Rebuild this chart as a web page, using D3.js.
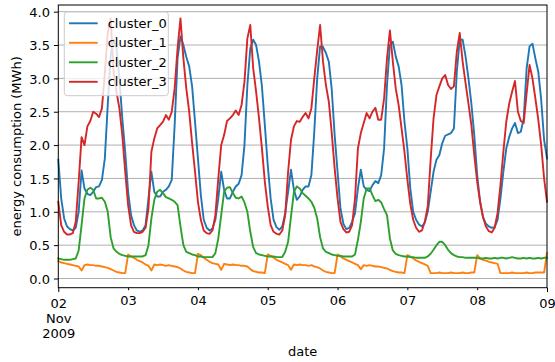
<!DOCTYPE html>
<html>
<head>
<meta charset="utf-8">
<script src="https://cdn.jsdelivr.net/npm/d3@7"></script>
<style>
  body { margin: 0; background: #fff; }
  svg text { font-family: "DejaVu Sans", sans-serif; font-size: 13px; fill: #000; }
</style>
</head>
<body>
<div id="chart"></div>
<script>
// hourly values, 2009-11-02 00:00 .. 2009-11-09 00:00 (one row per day)
var cluster_0 = [
  1.78, 1.2, 0.9, 0.78, 0.74, 0.72, 0.76, 1.0, 1.62, 1.35, 1.27, 1.25, 1.3, 1.37, 1.38, 1.48, 1.8, 2.6, 3.35, 3.58, 3.45, 3.0, 2.4, 1.9,
  1.3, 0.95, 0.8, 0.72, 0.7, 0.72, 0.8, 1.2, 1.6, 1.3, 1.23, 1.23, 1.3, 1.33, 1.38, 1.48, 2.3, 3.3, 3.63, 3.5, 3.32, 3.18, 2.88, 2.35,
  1.8, 1.25, 0.88, 0.76, 0.72, 0.75, 0.88, 1.2, 1.6, 1.33, 1.2, 1.2, 1.3, 1.38, 1.42, 1.55, 2.0, 2.9, 3.45, 3.58, 3.5, 3.25, 2.88, 2.3,
  1.7, 1.2, 0.88, 0.77, 0.73, 0.78, 0.98, 1.3, 1.63, 1.33, 1.18, 1.23, 1.33, 1.38, 1.38, 1.55, 2.2, 3.0, 3.48, 3.47, 3.38, 3.25, 2.83, 2.15,
  1.6, 1.05, 0.82, 0.74, 0.76, 0.85, 0.98, 1.35, 1.63, 1.38, 1.33, 1.31, 1.4, 1.46, 1.43, 1.55, 1.95, 2.9, 3.5, 3.55, 3.33, 3.18, 2.9, 2.35,
  1.95, 1.35, 1.0, 0.88, 0.81, 0.78, 0.84, 1.0, 1.3, 1.6, 1.78, 1.85, 2.03, 2.14, 2.16, 2.18, 2.25, 3.1, 3.58, 3.58, 3.33, 3.0, 2.62, 2.15,
  1.55, 1.15, 0.92, 0.82, 0.78, 0.76, 0.77, 0.88, 1.2, 1.6, 1.95, 2.12, 2.25, 2.33, 2.18, 2.2, 2.4, 3.15, 3.48, 3.52, 3.3, 3.1, 2.68, 2.08,
  1.8];
var cluster_1 = [
  0.26, 0.24, 0.23, 0.22, 0.21, 0.2, 0.19, 0.18, 0.12, 0.2, 0.21, 0.2, 0.2, 0.19, 0.19, 0.18, 0.17, 0.16, 0.14, 0.12, 0.1, 0.09, 0.08, 0.08,
  0.36, 0.33, 0.31, 0.28, 0.26, 0.24, 0.21, 0.19, 0.12, 0.21, 0.2, 0.21, 0.2, 0.19, 0.2, 0.19, 0.18, 0.17, 0.15, 0.12, 0.1, 0.09, 0.08, 0.08,
  0.37, 0.35, 0.31, 0.28, 0.25, 0.23, 0.22, 0.21, 0.13, 0.22, 0.21, 0.2, 0.21, 0.2, 0.2, 0.19, 0.19, 0.18, 0.14, 0.11, 0.1, 0.09, 0.09, 0.08,
  0.36, 0.34, 0.31, 0.28, 0.26, 0.24, 0.22, 0.2, 0.13, 0.21, 0.2, 0.21, 0.2, 0.2, 0.19, 0.2, 0.18, 0.17, 0.15, 0.12, 0.1, 0.09, 0.08, 0.08,
  0.36, 0.33, 0.3, 0.28, 0.26, 0.24, 0.22, 0.2, 0.14, 0.2, 0.19, 0.2, 0.19, 0.18, 0.18, 0.17, 0.16, 0.15, 0.13, 0.11, 0.1, 0.09, 0.09, 0.08,
  0.35, 0.33, 0.3, 0.27, 0.25, 0.23, 0.21, 0.19, 0.08, 0.08, 0.08, 0.09, 0.08, 0.08, 0.08, 0.09, 0.08, 0.08, 0.08, 0.09, 0.08, 0.08, 0.09, 0.09,
  0.35, 0.3, 0.28, 0.27, 0.25, 0.24, 0.23, 0.22, 0.08, 0.08, 0.08, 0.08, 0.09, 0.08, 0.08, 0.08, 0.08, 0.09, 0.08, 0.08, 0.09, 0.09, 0.09, 0.09,
  0.38];
var cluster_2 = [
  0.3, 0.29, 0.28, 0.28, 0.28, 0.29, 0.3, 0.42, 0.8, 1.2, 1.33, 1.36, 1.33, 1.2, 1.2, 1.21, 1.15, 1.0, 0.62, 0.45, 0.4, 0.37, 0.35, 0.34,
  0.33, 0.33, 0.33, 0.33, 0.33, 0.33, 0.35, 0.5, 0.9, 1.18, 1.3, 1.33, 1.28, 1.22, 1.2, 1.18, 1.15, 1.1, 0.78, 0.5, 0.4, 0.38, 0.36, 0.35,
  0.33, 0.33, 0.32, 0.32, 0.32, 0.32, 0.38, 0.6, 0.95, 1.3, 1.36, 1.37, 1.28, 1.21, 1.2, 1.23, 1.14, 1.0, 0.7, 0.47, 0.38, 0.36, 0.35, 0.34,
  0.33, 0.33, 0.33, 0.32, 0.32, 0.32, 0.4, 0.55, 0.93, 1.3, 1.38, 1.35, 1.28, 1.24, 1.2, 1.15, 1.06, 0.9, 0.62, 0.45, 0.4, 0.38, 0.36, 0.35,
  0.34, 0.34, 0.33, 0.33, 0.33, 0.33, 0.36, 0.58, 0.85, 1.2, 1.35, 1.35, 1.25, 1.16, 1.18, 1.14, 1.04, 0.95, 0.6, 0.42, 0.37, 0.35, 0.34, 0.33,
  0.33, 0.32, 0.32, 0.31, 0.31, 0.31, 0.31, 0.33, 0.37, 0.43, 0.5, 0.55, 0.55, 0.5, 0.43, 0.38, 0.35, 0.33, 0.32, 0.32, 0.31, 0.31, 0.31, 0.31,
  0.31, 0.3, 0.3, 0.31, 0.3, 0.3, 0.31, 0.3, 0.31, 0.31, 0.3, 0.31, 0.32, 0.31, 0.3, 0.3, 0.31, 0.3, 0.31, 0.3, 0.3, 0.31, 0.3, 0.31,
  0.31];
var cluster_3 = [
  1.15, 0.8, 0.7, 0.66, 0.66, 0.68, 0.85, 1.45, 2.12, 2.0, 2.28, 2.36, 2.5, 2.47, 2.42, 2.55, 3.08, 3.68, 3.9, 3.1, 2.8, 2.55, 2.15, 1.6,
  1.1, 0.8, 0.7, 0.68, 0.68, 0.7, 0.76, 1.05, 1.9, 2.1, 2.25, 2.3, 2.35, 2.45, 2.38, 2.5, 2.85, 3.45, 3.9, 3.3, 2.85, 2.5, 2.03, 1.6,
  1.15, 0.88, 0.72, 0.68, 0.67, 0.72, 0.95, 1.5, 2.0, 2.15, 2.36, 2.4, 2.45, 2.52, 2.45, 2.6, 2.95, 3.6, 3.8, 3.15, 2.8, 2.4, 1.95, 1.45,
  1.08, 0.8, 0.7, 0.67, 0.66, 0.72, 0.95, 1.6, 2.08, 2.28, 2.36, 2.35, 2.42, 2.48, 2.4, 2.55, 3.0, 3.42, 3.8, 3.25, 2.9, 2.65, 2.18, 1.65,
  1.2, 0.85, 0.74, 0.69, 0.7, 0.8, 1.2, 1.95, 2.18, 2.33, 2.48, 2.4, 2.5, 2.56, 2.38, 2.38, 2.7, 3.3, 3.72, 3.25, 2.85, 2.6, 2.25, 1.9,
  1.48, 1.12, 0.88, 0.76, 0.7, 0.72, 0.85, 1.08, 1.78, 2.4, 2.75, 2.88, 3.0, 3.05, 2.9, 2.84, 2.88, 3.4, 3.68, 3.25, 2.93, 2.62, 2.3, 1.85,
  1.45, 1.15, 0.92, 0.78, 0.71, 0.69, 0.76, 0.98, 1.4, 1.9, 2.35, 2.62, 2.8, 2.96, 2.5, 2.36, 2.33, 2.78, 3.2, 3.0, 2.7, 2.38, 2.0, 1.5,
  1.15];

var seriesNames = ["cluster_0", "cluster_1", "cluster_2", "cluster_3"];
var seriesValues = [cluster_0, cluster_1, cluster_2, cluster_3];
var colors = ["#1f77b4", "#ff7f0e", "#2ca02c", "#d62728"];
var yTicks = [0, 0.5, 1, 1.5, 2, 2.5, 3, 3.5, 4];
var majorDays = [new Date(2009, 10, 2), new Date(2009, 10, 9)];
var minorDays = [3, 4, 5, 6, 7, 8].map(function(d){ return new Date(2009, 10, d); });

var W = 555, H = 362;
var mLeft = 58.3, mRight = 547, mTop = 5, mBottom = 287.7;

var start = new Date(2009, 10, 2);
var dates = cluster_0.map(function(d, i){ return d3.timeHour.offset(start, i); });

var x = d3.scaleTime()
  .domain([start, new Date(2009, 10, 9)])
  .range([mLeft, mRight]);
var y = d3.scaleLinear()
  .domain([-0.138, 4.1])
  .range([mBottom, mTop]);

var svg = d3.select("#chart").append("svg")
  .attr("width", W)
  .attr("height", H);

// grid
svg.append("g").selectAll("line")
  .data(yTicks)
  .enter().append("line")
    .attr("x1", mLeft).attr("x2", mRight)
    .attr("y1", function(d){ return y(d); })
    .attr("y2", function(d){ return y(d); })
    .attr("stroke", "#b0b0b0")
    .attr("stroke-width", 1);

// lines
var line = d3.line()
  .x(function(d, i){ return x(dates[i]); })
  .y(function(d){ return y(d); });

svg.append("g").selectAll("path")
  .data(seriesValues)
  .enter().append("path")
    .attr("d", function(d){ return line(d); })
    .attr("fill", "none")
    .attr("stroke", function(d, i){ return colors[i]; })
    .attr("stroke-width", 1.9)
    .attr("stroke-linejoin", "round")
    .attr("stroke-linecap", "square");

// frame
svg.append("rect")
  .attr("x", mLeft).attr("y", mTop)
  .attr("width", mRight - mLeft).attr("height", mBottom - mTop)
  .attr("fill", "none")
  .attr("stroke", "#000")
  .attr("stroke-width", 1);

// y axis
var yAxis = svg.append("g")
  .attr("transform", "translate(" + mLeft + ",0)")
  .call(d3.axisLeft(y).tickValues(yTicks).tickFormat(d3.format(".1f")).tickSize(4.4).tickPadding(4));
yAxis.select(".domain").remove();
yAxis.selectAll("text").attr("font-size", null).attr("font-family", null).attr("dy", "0.36em");

// x axis, minor days
var xMinor = svg.append("g")
  .attr("transform", "translate(0," + mBottom + ")")
  .call(d3.axisBottom(x).tickValues(minorDays).tickFormat(d3.timeFormat("%d")).tickSize(2.5).tickPadding(5.8));
xMinor.select(".domain").remove();
xMinor.selectAll("text").attr("font-size", null).attr("font-family", null);

// x axis, major (weekly) days
var xMajor = svg.append("g")
  .attr("transform", "translate(0," + mBottom + ")")
  .call(d3.axisBottom(x).tickValues(majorDays).tickFormat("").tickSize(4.4));
xMajor.select(".domain").remove();
xMajor.selectAll(".tick").each(function(d, i){
  var t = d3.select(this).select("text")
    .attr("font-size", null).attr("font-family", null)
    .attr("y", 20.6).attr("dy", null);
  var parts = i === 0 ? [d3.timeFormat("%d")(d), d3.timeFormat("%b")(d), d3.timeFormat("%Y")(d)] : [d3.timeFormat("%d")(d)];
  parts.forEach(function(p, j){
    t.append("tspan").attr("x", 0).attr("dy", j === 0 ? 0 : 15).text(p);
  });
});

// axis labels
svg.append("text")
  .attr("x", (mLeft + mRight) / 2).attr("y", 355.5)
  .attr("text-anchor", "middle")
  .text("date");
svg.append("text")
  .attr("transform", "translate(21," + ((mTop + mBottom) / 2) + ") rotate(-90)")
  .attr("text-anchor", "middle")
  .text("energy consumption (MWh)");

// legend
var legend = svg.append("g");
legend.append("rect")
  .attr("x", 64.3).attr("y", 12)
  .attr("width", 104).attr("height", 83.7)
  .attr("rx", 3)
  .attr("fill", "#fff").attr("fill-opacity", 0.8)
  .attr("stroke", "#cccccc").attr("stroke-width", 1);
var items = legend.selectAll(".item")
  .data(seriesNames)
  .enter().append("g")
    .attr("transform", function(d, i){ return "translate(0," + (23.3 + i * 19.5) + ")"; });
items.append("line")
  .attr("x1", 69).attr("x2", 97.7)
  .attr("stroke", function(d, i){ return colors[i]; })
  .attr("stroke-width", 1.9);
items.append("text")
  .attr("x", 107.7).attr("y", 4.6)
  .text(function(d){ return d; });
</script>
</body>
</html>
